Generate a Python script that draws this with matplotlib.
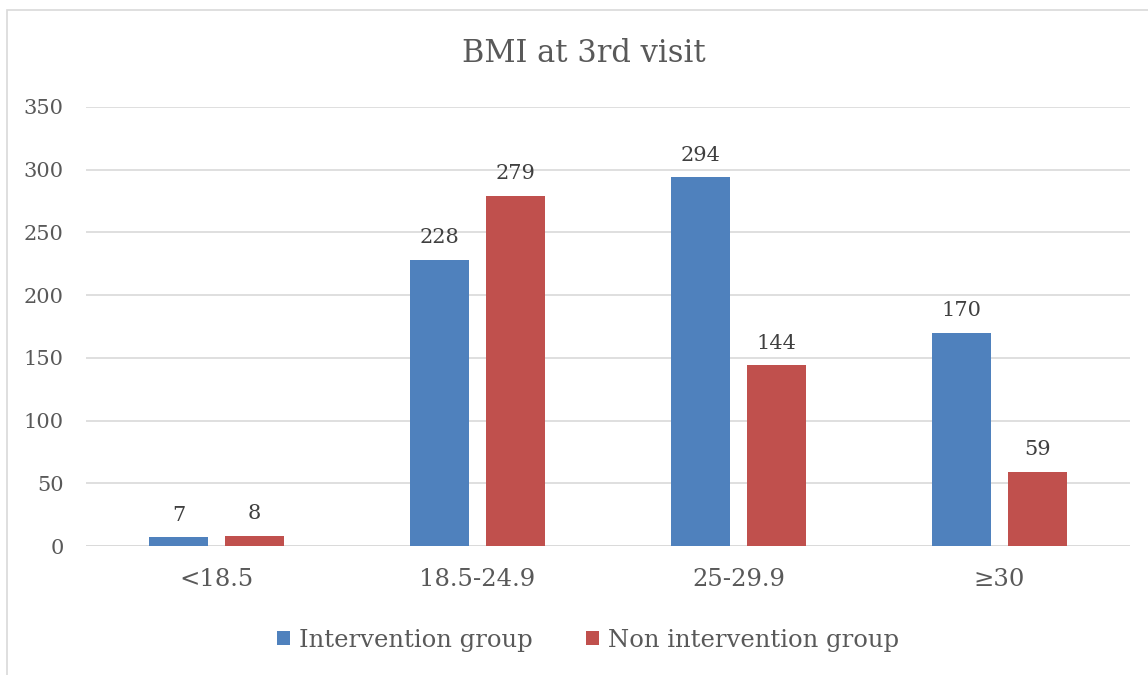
import numpy as np
import matplotlib
matplotlib.use("Agg")
import matplotlib.pyplot as plt
from matplotlib.patches import Rectangle

categories = ["<18.5", "18.5-24.9", "25-29.9", "≥30"]
intervention = [7, 228, 294, 170]
non_intervention = [8, 279, 144, 59]
yticks = [0, 50, 100, 150, 200, 250, 300, 350]

blue = "#4f81bd"
red = "#c0504d"
txt = "#595959"

plt.rcParams["font.family"] = ["DejaVu Serif"]

fig = plt.figure(figsize=(11.48, 6.75), dpi=100)
ax = fig.add_axes([86 / 1148, 1 - 546 / 675, 1044 / 1148, 439 / 675])

# outer chart border (light grey)
fig.patches.append(Rectangle((7 / 1148, -0.1), 1.2, 1 - 10 / 675 + 0.1,
                             transform=fig.transFigure, fill=False,
                             edgecolor="#d9d9d9", linewidth=1.2))

x = np.arange(len(categories))
w = 0.226
off = 0.144
b1 = ax.bar(x - off, intervention, w, color=blue, label="Intervention group", zorder=3)
b2 = ax.bar(x + off, non_intervention, w, color=red, label="Non intervention group", zorder=3)

for bars, vals in [(b1, intervention), (b2, non_intervention)]:
    for b, v in zip(bars, vals):
        ax.annotate(str(v), (b.get_x() + b.get_width() / 2, v), xytext=(0, 12),
                    textcoords="offset points", ha="center", va="baseline",
                    fontsize=15, color="#404040")

ax.set_xlim(-0.5, 3.5)
ax.set_ylim(0, 350)
ax.set_yticks(yticks)
ax.set_xticks(x)
ax.set_xticklabels(categories, fontsize=17.5, color=txt)
ax.tick_params(axis="y", labelsize=15, labelcolor=txt, length=0, pad=16)
ax.tick_params(axis="x", length=0, pad=16)
ax.grid(axis="y", color="#d9d9d9", linewidth=1.2, zorder=0)
for s in ax.spines.values():
    s.set_visible(False)
ax.axhline(0, color="#d9d9d9", linewidth=1.2, zorder=1)

fig.text(584 / 1148, 1 - 53 / 675, "BMI at 3rd visit", ha="center", va="center",
         fontsize=22, color=txt)

fig.legend(handles=[b1, b2], loc="center", bbox_to_anchor=(588 / 1148, 1 - 640 / 675),
           ncol=2, frameon=False, fontsize=17.5, labelcolor=txt,
           handlelength=0.55, handleheight=0.55, handletextpad=0.35, columnspacing=2.2)

fig.savefig("out.png", dpi=100)
